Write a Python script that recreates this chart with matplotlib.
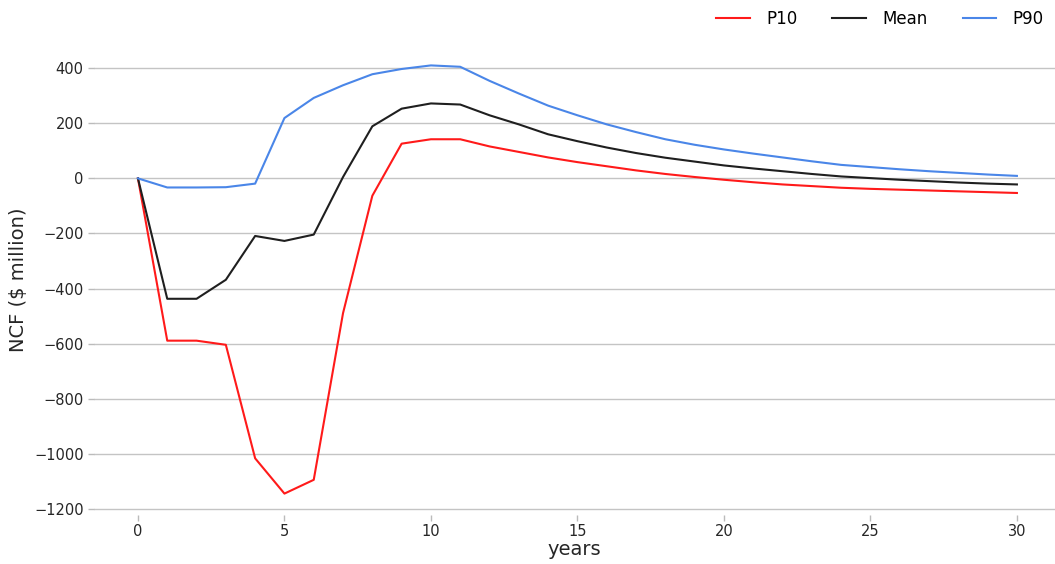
import matplotlib
matplotlib.use("Agg")
import matplotlib.pyplot as plt

# NCF per year, $ million
years = list(range(0, 31))
p10 = [0, -589, -589, -604, -1016, -1144, -1094, -489, -63, 126,
       142, 142, 116, 96, 76, 59, 44, 29, 16, 5,
       -5, -14, -22, -28, -34, -38, -41, -44, -47, -50, -53]
mean = [0, -437, -437, -368, -209, -227, -204, 5, 189, 253,
        272, 268, 229, 196, 160, 135, 112, 92, 75, 61,
        47, 36, 26, 16, 7, 1, -5, -10, -15, -19, -22]
p90 = [0, -33, -33, -32, -19, 219, 292, 338, 378, 397,
       410, 405, 354, 308, 264, 229, 196, 168, 142, 122,
       105, 90, 76, 62, 49, 41, 33, 26, 20, 14, 9]

fig = plt.figure(figsize=(10.55, 5.64), dpi=100)
ax = fig.add_axes([94/1055, (564-515)/564, (1055-94)/1055, (515-44)/564])

ax.plot(years, p10, color="#ff1a1a", lw=1.5, label="P10")
ax.plot(years, mean, color="#1f1f1f", lw=1.5, label="Mean")
ax.plot(years, p90, color="#4a86e8", lw=1.5, label="P90")

ax.set_xlim(-1.5, 31.3)
for s in ax.spines.values():
    s.set_visible(False)
ax.grid(axis="y", color="#c4c4c4", lw=1.0)
ax.set_axisbelow(True)
ax.tick_params(axis="both", colors="#bbbbbb", labelcolor="#262626",
               labelsize=10.5, length=4, width=1)
ax.tick_params(axis="x", pad=2.5)

ax.set_xlabel("years", fontsize=14, color="#262626", labelpad=1)
ax.set_ylabel("NCF ($ million)", fontsize=14, color="#262626")

ax.legend(loc="upper right", bbox_to_anchor=(1.004, 1.105), ncol=3,
          frameon=False, fontsize=12, handlelength=2.0,
          handletextpad=1.0, columnspacing=2.1)

fig.savefig("out.png", dpi=100)
